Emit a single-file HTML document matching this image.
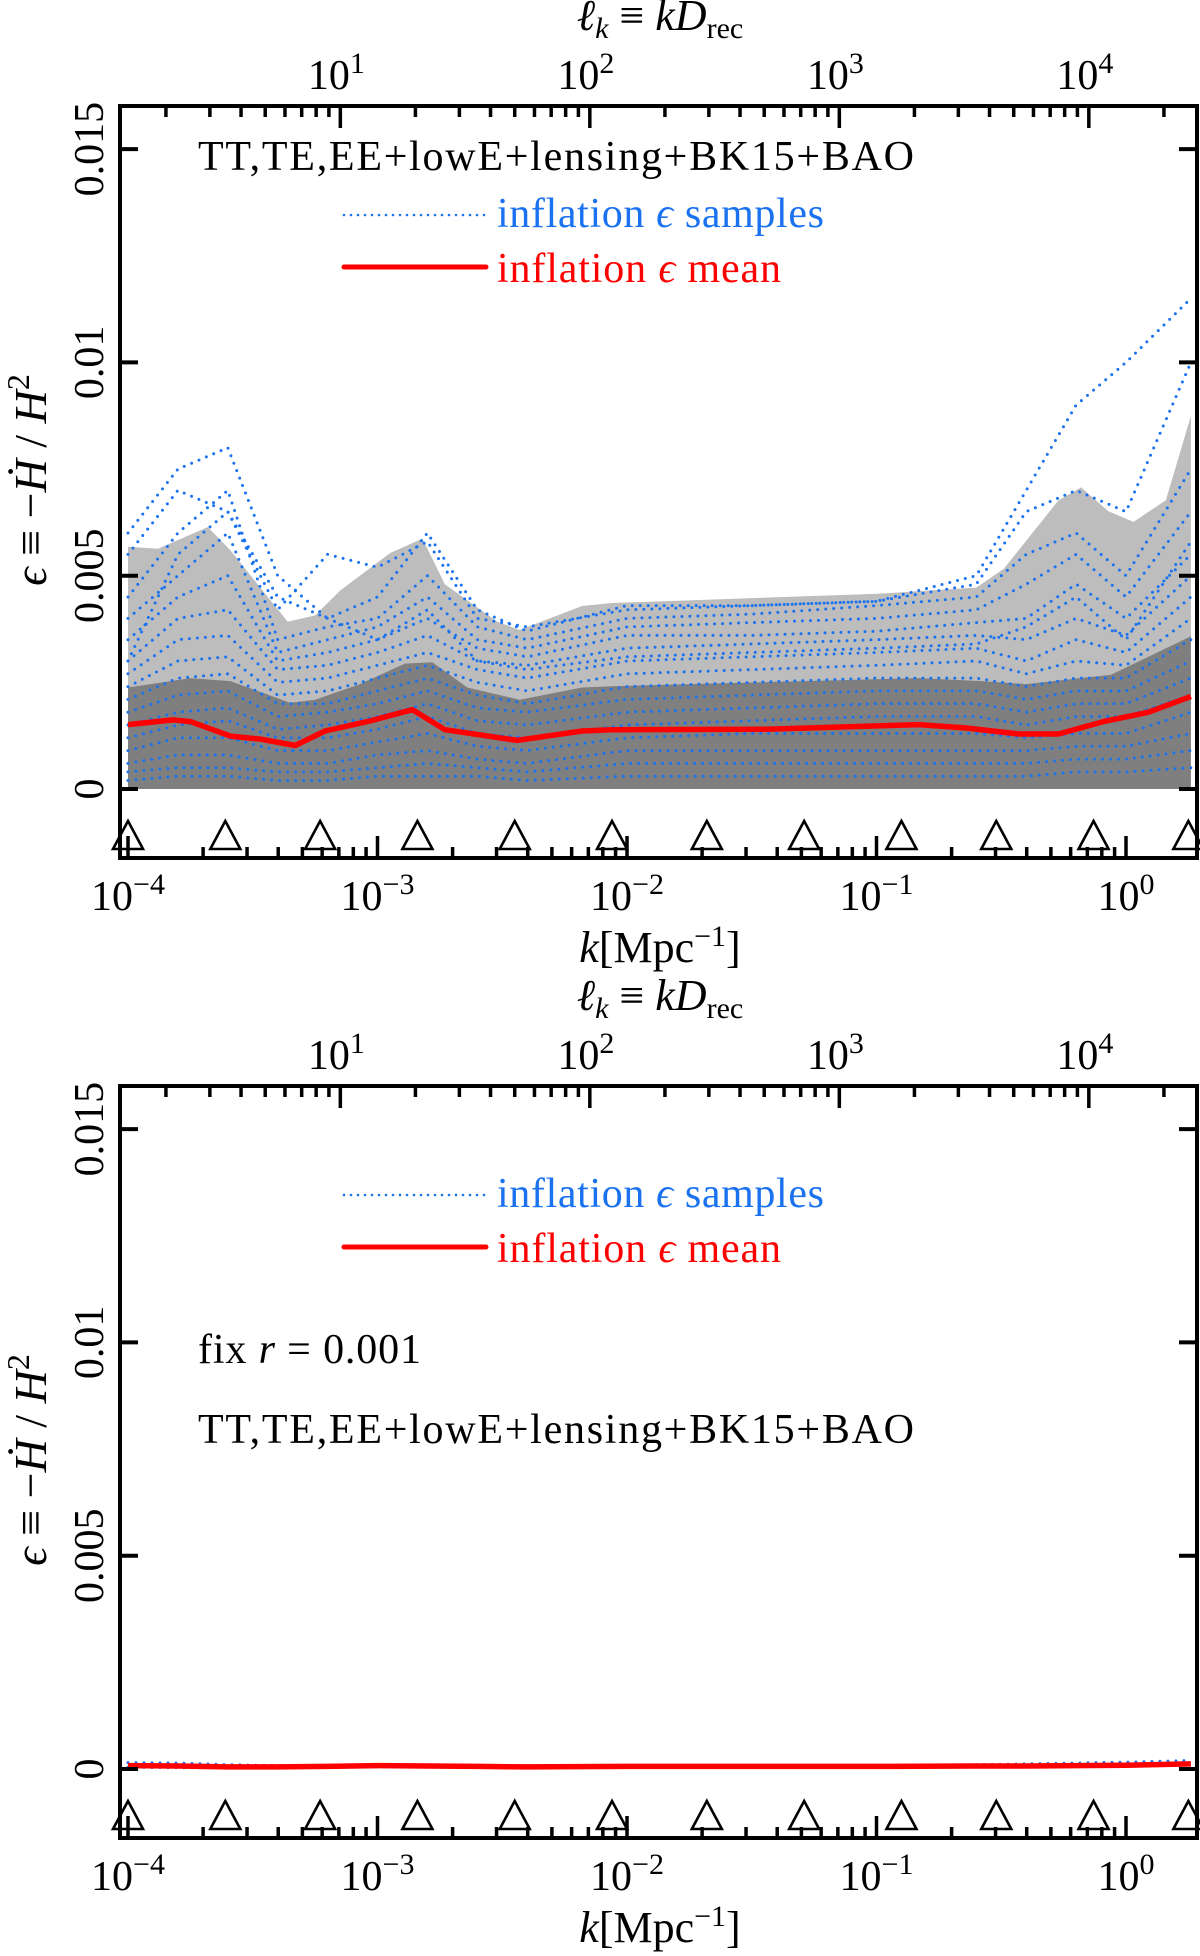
<!DOCTYPE html>
<html><head><meta charset="utf-8">
<style>
html,body{margin:0;padding:0;background:#fff;}
svg{display:block;font-family:"Liberation Serif",serif;}
</style></head>
<body>
<svg id="fig" width="1200" height="1956" viewBox="0 0 1200 1956" xmlns="http://www.w3.org/2000/svg"></svg>
<script>
// ---- data ----
const gridLogK = [-4,-3.8,-3.6,-3.4,-3.2,-3.0,-2.8,-2.6,-2.4,-2.0,-1.5,-1.0,-0.6,-0.4,-0.2,0,0.26];
const samplesTop = [
 [6.0,7.5,8.0,5.0,4.0,4.5,6.0,4.2,3.7,4.3,4.3,4.4,5.0,7.0,9.0,10.0,11.5],
 [5.5,7.0,6.5,4.2,5.5,5.2,5.8,4.0,3.8,4.2,4.3,4.4,4.8,6.5,7.0,6.5,10.0],
 [4.5,6.0,7.0,3.5,3.8,4.0,5.0,3.8,3.5,4.0,4.1,4.3,4.5,5.5,6.0,5.0,7.5],
 [4.0,5.0,6.0,3.2,3.5,3.8,4.5,3.5,3.3,3.8,3.9,4.0,4.2,4.8,5.5,4.5,6.5],
 [3.5,4.5,5.0,3.0,3.2,3.5,4.0,3.3,3.1,3.6,3.6,3.7,3.9,4.0,4.8,4.0,5.5],
 [3.0,4.0,4.2,2.8,2.9,3.2,3.6,3.0,2.9,3.3,3.4,3.5,3.6,3.5,4.0,3.6,5.0],
 [2.7,3.5,3.6,2.5,2.6,2.9,3.2,2.8,2.6,3.0,3.1,3.2,3.3,3.0,3.5,3.2,4.5],
 [2.4,3.0,3.1,2.2,2.3,2.6,2.9,2.5,2.3,2.7,2.8,2.9,3.0,2.7,3.0,2.9,4.0],
 [2.1,2.6,2.7,2.0,2.0,2.3,2.6,2.2,2.0,2.4,2.5,2.6,2.6,2.4,2.6,2.6,3.5],
 [1.8,2.2,2.3,1.7,1.8,2.0,2.3,1.9,1.8,2.1,2.2,2.3,2.3,2.1,2.3,2.3,3.0],
 [1.5,1.8,1.9,1.4,1.5,1.7,2.0,1.6,1.5,1.8,1.9,2.0,2.0,1.8,2.0,2.0,2.6],
 [1.2,1.5,1.6,1.2,1.2,1.4,1.7,1.3,1.2,1.5,1.6,1.7,1.7,1.5,1.7,1.7,2.2],
 [0.9,1.2,1.2,0.9,0.9,1.1,1.3,1.0,0.9,1.2,1.3,1.3,1.3,1.2,1.3,1.3,1.8],
 [0.6,0.8,0.8,0.6,0.6,0.8,0.9,0.7,0.6,0.9,0.9,0.9,0.9,0.9,1.0,1.0,1.3],
 [0.4,0.5,0.5,0.4,0.4,0.5,0.6,0.5,0.4,0.6,0.6,0.6,0.6,0.6,0.7,0.7,0.9],
 [0.2,0.3,0.3,0.2,0.2,0.3,0.3,0.3,0.2,0.3,0.3,0.3,0.3,0.3,0.4,0.4,0.5],
 [3.0,5.5,6.5,4.5,4.0,3.5,4.2,3.0,2.8,3.1,3.2,3.3,3.4,3.8,4.5,3.5,5.8]
];
const outerK = [-4,-3.88,-3.68,-3.59,-3.36,-3.25,-3.15,-2.95,-2.82,-2.73,-2.52,-2.43,-2.18,-2.06,-0.98,-0.80,-0.60,-0.49,-0.27,-0.18,-0.07,0.03,0.16,0.26];
const outerV = [5.68,5.63,6.14,5.60,3.92,4.07,4.65,5.53,5.87,4.80,3.92,3.73,4.29,4.36,4.58,4.65,4.72,5.16,6.77,7.07,6.51,6.26,6.77,8.75];
const innerK = [-4,-3.75,-3.59,-3.35,-3.25,-3.07,-2.89,-2.78,-2.64,-2.43,-2.18,-2.06,-0.83,-0.58,-0.40,-0.06,0.26];
const innerV = [2.38,2.60,2.53,2.02,2.09,2.46,2.94,2.97,2.38,2.09,2.38,2.41,2.60,2.53,2.46,2.68,3.58];
const meanK = [-4,-3.82,-3.75,-3.59,-3.47,-3.33,-3.21,-3.04,-2.86,-2.73,-2.44,-2.18,-2.06,-1.44,-0.83,-0.64,-0.43,-0.27,-0.09,0.09,0.26];
const meanV = [1.51,1.62,1.58,1.24,1.17,1.02,1.36,1.58,1.86,1.39,1.14,1.36,1.39,1.40,1.51,1.43,1.29,1.29,1.58,1.80,2.17];
const meanBottom = [0.08,0.07,0.05,0.05,0.06,0.08,0.07,0.06,0.05,0.06,0.06,0.06,0.07,0.07,0.08,0.09,0.12];
const samplesBottom = [
 [0.15,0.14,0.10,0.08,0.08,0.10,0.09,0.08,0.07,0.08,0.08,0.08,0.10,0.12,0.14,0.16,0.20],
 [0.04,0.03,0.03,0.03,0.04,0.05,0.05,0.04,0.04,0.04,0.04,0.04,0.05,0.05,0.06,0.07,0.09]
];
const triK = [-4.0,-3.61,-3.23,-2.84,-2.45,-2.06,-1.68,-1.29,-0.90,-0.52,-0.13,0.25];
const yTicks = [0,0.005,0.01,0.015];
const yTickLabels = ["0","0.005","0.01","0.015"];
const kDecades = [-4,-3,-2,-1,0];
const kDecadeLabels = ["−4","−3","−2","−1","0"];
const lDecades = [1,2,3,4];

// ---- geometry ----
const NS="http://www.w3.org/2000/svg";
const svg=document.getElementById('fig');
const L=120,R=1197, X0=128, DEC=249.5, LOGD=4.149;
function xK(lk){return X0+(lk+4)*DEC;}
function xL(ll){return xK(ll-LOGD);}
function mk(tag,attrs,parent){const e=document.createElementNS(NS,tag);for(const k in attrs)e.setAttribute(k,attrs[k]);(parent||svg).appendChild(e);return e;}
function ptsStr(ks,vs,yf){return ks.map((k,i)=>xK(k).toFixed(1)+','+yf(vs[i]*1e-3).toFixed(1)).join(' ');}

function panel(off, cfg){
  const T=106+off, B=858+off, Y0=789+off, PX=213.3/0.005;
  const yV=v=>Y0-v*PX;
  const g=mk('g',{});
  
  
  if(cfg.bands){
    const bo=mk('polygon',{points:xK(outerK[0])+','+Y0+' '+ptsStr(outerK,outerV,yV)+' '+xK(outerK[outerK.length-1])+','+Y0,fill:'#bdbdbd'},g);
    
    
    const bi=mk('polygon',{points:xK(innerK[0])+','+Y0+' '+ptsStr(innerK,innerV,yV)+' '+xK(innerK[innerK.length-1])+','+Y0,fill:'#7f7f7f'},g);
    
    
  }
  cfg.samples.forEach((s,i)=>{
    const p=mk('polyline',{points:ptsStr(gridLogK,s,yV),fill:'none',stroke:'#1a72f0','stroke-width':3,'stroke-dasharray':'0 8','stroke-linecap':'round'},g);
    
    
  });
  const m=mk('polyline',{points:ptsStr(cfg.mk,cfg.mv,yV),fill:'none',stroke:'#ff0000','stroke-width':5.5,'stroke-linejoin':'round'},g);
  
  
  triK.forEach(k=>{const x=xK(k);
    const t=mk('polygon',{points:(x-15)+','+(B-9)+' '+(x+15)+','+(B-9)+' '+x+','+(B-37),fill:'none',stroke:'#000','stroke-width':2.6},g);
    
    
  });
  const fr=mk('rect',{x:L,y:T,width:R-L,height:B-T,fill:'none',stroke:'#000','stroke-width':4},g);
  
  
  yTicks.forEach((v,i)=>{const y=yV(v);
    mk('line',{x1:L,x2:L+18,y1:y,y2:y,stroke:'#000','stroke-width':4},g);
    mk('line',{x1:R-18,x2:R,y1:y,y2:y,stroke:'#000','stroke-width':4},g);
    const tl=mk('text',{x:0,y:0,transform:`translate(103,${y}) rotate(-90)`,'text-anchor':'middle','font-size':42},g);
    tl.textContent=yTickLabels[i];
    
    
  });
  for(let d=-4;d<=0;d++){for(let m=1;m<=9;m++){const lk=d+Math.log10(m);const x=xK(lk);if(x<L||x>R)continue;
    mk('line',{x1:x,x2:x,y1:B,y2:B-(m===1?22:11),stroke:'#000','stroke-width':3.5},g);}}
  kDecades.forEach((d,i)=>{const x=xK(d);
    const t=mk('text',{x:x,y:B+52,'text-anchor':'middle','font-size':42},g);
    
    
    t.appendChild(document.createTextNode('10'));
    const s=mk('tspan',{dy:-16,'font-size':30},t);s.textContent=kDecadeLabels[i];
  });
  for(let d=0;d<=4;d++){for(let m=1;m<=9;m++){const ll=d+Math.log10(m);const x=xL(ll);if(x<L+2||x>R-2)continue;
    mk('line',{x1:x,x2:x,y1:T,y2:T+(m===1?22:11),stroke:'#000','stroke-width':3.5},g);}}
  lDecades.forEach(d=>{const x=xL(d);
    const t=mk('text',{x:x-4,y:T-17,'text-anchor':'middle','font-size':42},g);
    
    
    t.appendChild(document.createTextNode('10'));
    const s=mk('tspan',{dy:-16,'font-size':30},t);s.textContent=String(d);
  });
  const xt=mk('text',{x:660,y:B+104,'text-anchor':'middle','font-size':44},g);
  
  
  xt.innerHTML='<tspan font-style="italic">k</tspan>[Mpc<tspan dy="-16" font-size="30">−1</tspan><tspan dy="16">]</tspan>';
  const tt=mk('text',{x:660,y:T-76,'text-anchor':'middle','font-size':44},g);
  
  
  tt.innerHTML='<tspan font-style="italic">ℓ</tspan><tspan font-style="italic" font-size="30" dy="8">k</tspan><tspan dy="-8"> ≡ </tspan><tspan font-style="italic">kD</tspan><tspan font-size="30" dy="8">rec</tspan>';
  const yt=mk('text',{x:0,y:0,transform:`translate(46,${480+off}) rotate(-90)`,'text-anchor':'middle','font-size':46},g);
  
  
  yt.innerHTML='<tspan font-style="italic">ϵ</tspan> ≡ −<tspan font-style="italic">Ḣ</tspan> / <tspan font-style="italic">H</tspan><tspan dy="-17" font-size="32">2</tspan>';
  const ls=mk('line',{x1:344,x2:486,y1:215+off,y2:215+off,stroke:'#1a72f0','stroke-width':2.6,'stroke-dasharray':'0 7','stroke-linecap':'round'},g);
  
  
  const lt1=mk('text',{x:497,y:227+off,'font-size':42,fill:'#1a72f0',textLength:327},g);
  lt1.innerHTML='inflation <tspan font-style="italic">ϵ</tspan> samples';
  
  
  const lm=mk('line',{x1:344,x2:486,y1:267+off,y2:267+off,stroke:'#ff0000','stroke-width':5,'stroke-linecap':'round'},g);
  
  
  const lt2=mk('text',{x:497,y:282+off,'font-size':42,fill:'#ff0000',textLength:284},g);
  lt2.innerHTML='inflation <tspan font-style="italic">ϵ</tspan> mean';
  
  
  cfg.notes.forEach(n=>{
    const t=mk('text',{x:198,y:n.y+off,'font-size':42},g);
    t.innerHTML=n.html;
    if(n.len) t.setAttribute('textLength',n.len);
    
    
  });
}

panel(0,{name:'top-panel',bands:true,samples:samplesTop,mk:meanK,mv:meanV,
  notes:[{y:170,html:'TT,TE,EE+lowE+lensing+BK15+BAO',len:716,name:'dataset-label'}]});
panel(980,{name:'bottom-panel',bands:false,samples:samplesBottom,mk:gridLogK,mv:meanBottom,
  notes:[{y:383,html:'fix <tspan font-style="italic">r</tspan> = 0.001',len:223,name:'fix-r-label'},
         {y:463,html:'TT,TE,EE+lowE+lensing+BK15+BAO',len:716,name:'dataset-label'}]});
</script>
</body></html>
